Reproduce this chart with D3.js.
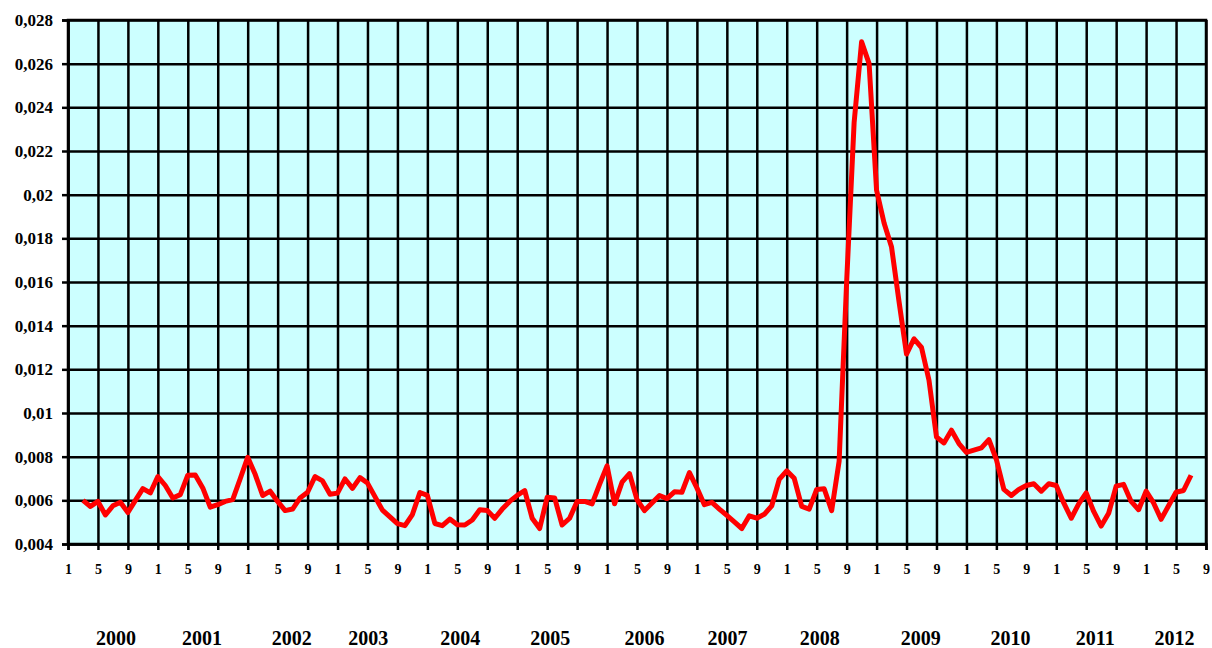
<!DOCTYPE html>
<html>
<head>
<meta charset="utf-8">
<script src="https://cdn.jsdelivr.net/npm/d3@7"></script>
<style>
  body { margin: 0; background: #fff; }
  text { font-family: "Liberation Serif", "Times New Roman", serif; font-weight: bold; fill: #000; }
</style>
</head>
<body>
<script>
// months counted from Jan 2000 (index 0); series starts at index 2
var startIndex = 2;
var values = [
  0.0060, 0.00572, 0.00595, 0.00533, 0.00575, 0.00591, 0.00544, 0.0060, 0.00654, 0.00634,
  0.00709, 0.00668, 0.00611, 0.00626, 0.00715, 0.00716, 0.00657, 0.00569, 0.0058, 0.00595,
  0.00603, 0.00699, 0.00797, 0.00719, 0.00622, 0.00642, 0.00595, 0.00553, 0.0056, 0.00611,
  0.00637, 0.00709, 0.00689, 0.00628, 0.00633, 0.00698, 0.00655, 0.00704, 0.00679, 0.00617,
  0.00555, 0.00524, 0.00493, 0.00484, 0.00535, 0.00636, 0.00623, 0.00494, 0.00484, 0.00514,
  0.00488, 0.00487, 0.0051, 0.00557, 0.00553, 0.00518, 0.0056, 0.00595, 0.00623, 0.00645,
  0.00518, 0.00471, 0.00614, 0.00611, 0.00487, 0.00518, 0.00595, 0.00595, 0.00584, 0.00673,
  0.00758, 0.00584, 0.00683, 0.00722, 0.00603, 0.00553, 0.00588, 0.00622, 0.00608, 0.00639,
  0.00637, 0.00727, 0.00657, 0.0058, 0.00591, 0.0056, 0.00531, 0.00501, 0.00471, 0.00529,
  0.00518, 0.00536, 0.00575, 0.00696, 0.00735, 0.00701, 0.00572, 0.0056, 0.0065, 0.00653,
  0.00553, 0.0078, 0.0160, 0.0233, 0.0270, 0.0260, 0.0202, 0.0187, 0.0176, 0.0151,
  0.0127, 0.0134, 0.0130, 0.0115, 0.0089, 0.00863, 0.00921, 0.0086, 0.0082, 0.0083,
  0.0084, 0.00878, 0.00787, 0.0065, 0.00622, 0.0065, 0.00668, 0.00676, 0.00642, 0.00676,
  0.00668, 0.00588, 0.00518, 0.00584, 0.00634, 0.00549, 0.00482, 0.00541, 0.00665, 0.00673,
  0.00595, 0.00557, 0.00642, 0.00588, 0.00513, 0.00575, 0.00637, 0.00645, 0.00715
];
var monthTicks = d3.range(0, 153, 4);
var monthLabels = ['1', '5', '9'];
var yTicks = [0.004, 0.006, 0.008, 0.01, 0.012, 0.014, 0.016, 0.018, 0.02, 0.022, 0.024, 0.026, 0.028];
var years = ['2000', '2001', '2002', '2003', '2004', '2005', '2006', '2007', '2008', '2009', '2010', '2011', '2012'];
var yearPos = [6.4, 17.9, 29.9, 40.1, 52.4, 64.4, 77, 88.1, 100.4, 113.9, 125.9, 137.2, 147.8];

var margin = {top: 20, right: 6, bottom: 104, left: 68},
    width = 1212 - margin.left - margin.right,
    height = 648 - margin.top - margin.bottom;

var svg = d3.select('body').append('svg')
    .attr('width', 1212)
    .attr('height', 648)
    .append('g')
    .attr('transform', 'translate(' + margin.left + ',' + margin.top + ')');

var x = d3.scaleLinear().domain([0, 152]).range([0, width]);
var y = d3.scaleLinear().domain([0.004, 0.028]).range([height, 0]);

svg.append('rect')
    .attr('width', width)
    .attr('height', height)
    .attr('fill', '#CCFFFF');

// grid
svg.append('g')
    .attr('class', 'grid')
    .call(d3.axisLeft(y).tickValues(yTicks).tickSize(-width).tickFormat(''))
    .call(function (g) { g.select('.domain').remove(); });
svg.append('g')
    .attr('class', 'grid')
    .attr('transform', 'translate(0,' + height + ')')
    .call(d3.axisBottom(x).tickValues(monthTicks).tickSize(height).tickFormat(''))
    .call(function (g) { g.select('.domain').remove(); })
    .selectAll('line').attr('y2', -height);
svg.selectAll('.grid line')
    .attr('stroke', '#000')
    .attr('stroke-width', 2.5);

svg.append('rect')
    .attr('width', width)
    .attr('height', height)
    .attr('fill', 'none')
    .attr('stroke', '#000')
    .attr('stroke-width', 2.5);

// axes
var yAxis = svg.append('g')
    .call(d3.axisLeft(y).tickValues(yTicks).tickSize(6).tickPadding(9)
        .tickFormat(function (d) { return String(+d.toFixed(3)).replace('.', ','); }));
var xAxis = svg.append('g')
    .attr('transform', 'translate(0,' + height + ')')
    .call(d3.axisBottom(x).tickValues(monthTicks).tickSize(6).tickPadding(14)
        .tickFormat(function (d) { return monthLabels[(d % 12) / 4]; }));
[yAxis, xAxis].forEach(function (a) {
    a.select('.domain').attr('stroke', '#000').attr('stroke-width', 2.5);
    a.selectAll('line').attr('stroke', '#000').attr('stroke-width', 2.5);
    a.selectAll('text').attr('fill', '#000');
});
yAxis.selectAll('text').attr('font-size', 17).attr('font-family', null);
xAxis.selectAll('text').attr('font-size', 14).attr('font-family', null);

// year labels
svg.selectAll('.year')
    .data(years)
    .enter()
    .append('text')
    .attr('class', 'year')
    .attr('x', function (d, i) { return x(yearPos[i]); })
    .attr('y', height + 101)
    .attr('text-anchor', 'middle')
    .attr('font-size', 20)
    .text(function (d) { return d; });

// series
var line = d3.line()
    .x(function (d, i) { return x(startIndex + i); })
    .y(function (d) { return y(d); });

svg.append('path')
    .datum(values)
    .attr('d', line)
    .attr('fill', 'none')
    .attr('stroke', '#FF0000')
    .attr('stroke-width', 5)
    .attr('stroke-linejoin', 'round');
</script>
</body>
</html>
